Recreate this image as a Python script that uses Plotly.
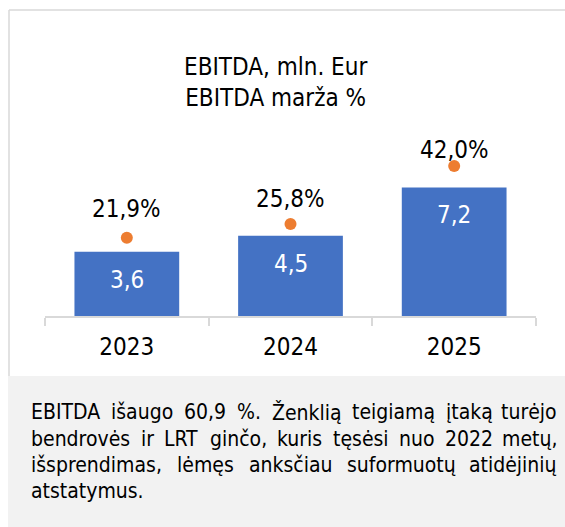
import plotly.graph_objects as go

# ---- data ----
years = ["2023", "2024", "2025"]
ebitda = [3.6, 4.5, 7.2]          # mln. Eur
margin = [21.9, 25.8, 42.0]       # %

title_lines = ["EBITDA, mln. Eur", "EBITDA marža %"]
note_lines = [
    "EBITDA išaugo 60,9 %. Ženklią teigiamą įtaką turėjo",
    "bendrovės ir LRT ginčo, kuris tęsėsi nuo 2022 metų,",
    "išsprendimas, lėmęs anksčiau suformuotų atidėjinių",
    "atstatymus.",
]

# ---- styling / layout constants ----
W, H = 565, 527
FONT = "DejaVu Sans Condensed, DejaVu Sans, sans-serif"
BAR_COLOR = "#4472C4"
DOT_COLOR = "#ED7D31"
GRID_GRAY = "#d9d9d9"
pct_label_shift = [29, 25, 16]


def px_x(p):
    return p / W


def px_y(p):
    return 1 - p / H


def fmt(v, suffix=""):
    return f"{v:.1f}".replace(".", ",") + suffix


fig = go.Figure()
fig.add_trace(go.Bar(
    x=years, y=ebitda, marker=dict(color=BAR_COLOR, line=dict(width=0)),
    width=0.64, yaxis="y", hoverinfo="skip", showlegend=False,
))
fig.add_trace(go.Scatter(
    x=years, y=margin, mode="markers", yaxis="y2",
    marker=dict(color=DOT_COLOR, size=12), hoverinfo="skip", showlegend=False,
))

annotations = []
for i, v in enumerate(ebitda):
    annotations.append(dict(
        x=i, y=v, xref="x", yref="y", text=fmt(v), showarrow=False,
        yanchor="middle", yshift=-28, font=dict(family=FONT, size=24, color="white"),
    ))
for i, (m, s) in enumerate(zip(margin, pct_label_shift)):
    annotations.append(dict(
        x=i, y=m, xref="x", yref="y2", text=fmt(m, "%"), showarrow=False,
        yanchor="middle", yshift=s, font=dict(family=FONT, size=24, color="black"),
    ))

annotations.append(dict(
    x=px_x(275), y=px_y(82), xref="paper", yref="paper",
    text="<br>".join(title_lines), showarrow=False, align="center",
    xanchor="center", yanchor="middle",
    font=dict(family=FONT, size=24, color="black"),
))

# ---- justified note text ----
EM = {
    " ": .318, "a": .613, "b": .635, "c": .550, "d": .635, "e": .615, "f": .352,
    "g": .635, "h": .634, "i": .278, "j": .278, "k": .579, "l": .278, "m": .974,
    "n": .634, "o": .612, "p": .635, "r": .411, "s": .521, "t": .392, "u": .634,
    "v": .592, "y": .592, "z": .525, "A": .684, "B": .686, "D": .770, "E": .632,
    "I": .295, "L": .557, "R": .695, "T": .611, "Z": .685, ",": .318, ".": .318,
    "%": .950,
}
BASE = {"ą": "a", "ę": "e", "ė": "e", "į": "i", "š": "s", "č": "c", "ų": "u",
        "ž": "z", "Ž": "Z"}
COND = 0.9
NOTE_SIZE = 21


def word_w(w):
    tot = 0
    for ch in w:
        c = BASE.get(ch, ch)
        tot += .636 if c.isdigit() else EM.get(c, .6)
    return tot * NOTE_SIZE * COND


X_LEFT, X_RIGHT = 30, 558
line_y = [412, 439, 465, 491]
for li, (line, ly) in enumerate(zip(note_lines, line_y)):
    words = line.split(" ")
    last = li == len(note_lines) - 1
    if last or len(words) == 1:
        annotations.append(dict(
            x=px_x(X_LEFT), y=px_y(ly), xref="paper", yref="paper", text=line,
            showarrow=False, xanchor="left", yanchor="middle", borderpad=0,
            font=dict(family=FONT, size=NOTE_SIZE, color="black"),
        ))
        continue
    widths = [word_w(w) for w in words]
    gap = (X_RIGHT - X_LEFT - sum(widths)) / (len(words) - 1)
    pos = X_LEFT
    for i, (w, ww) in enumerate(zip(words, widths)):
        if i == len(words) - 1:
            annotations.append(dict(
                x=px_x(X_RIGHT), y=px_y(ly), xref="paper", yref="paper", text=w,
                showarrow=False, xanchor="right", yanchor="middle", borderpad=0,
                font=dict(family=FONT, size=NOTE_SIZE, color="black"),
            ))
        else:
            annotations.append(dict(
                x=px_x(pos), y=px_y(ly), xref="paper", yref="paper", text=w,
                showarrow=False, xanchor="left", yanchor="middle", borderpad=0,
                font=dict(family=FONT, size=NOTE_SIZE, color="black"),
            ))
        pos += ww + gap

shapes = [
    dict(type="rect", xref="paper", yref="paper", x0=px_x(8), x1=1,
         y0=px_y(527), y1=px_y(376), fillcolor="#f2f2f2", line=dict(width=0),
         layer="below"),
    dict(type="line", xref="paper", yref="paper", x0=px_x(9), x1=1,
         y0=px_y(10), y1=px_y(10), line=dict(color=GRID_GRAY, width=1.5)),
    dict(type="line", xref="paper", yref="paper", x0=px_x(9), x1=px_x(9),
         y0=px_y(10), y1=px_y(376), line=dict(color=GRID_GRAY, width=1.5)),
]

dom_y = [px_y(316), px_y(137.5)]
fig.update_layout(
    width=W, height=H, autosize=False,
    margin=dict(l=0, r=0, t=0, b=0, pad=0),
    paper_bgcolor="white", plot_bgcolor="rgba(0,0,0,0)",
    showlegend=False,
    font=dict(family=FONT, color="black"),
    xaxis=dict(
        type="category", domain=[px_x(45), px_x(536)], range=[-0.5, 2.5],
        showline=True, linecolor=GRID_GRAY, linewidth=1.5,
        ticks="outside", tickson="boundaries", ticklen=8, tickcolor=GRID_GRAY,
        tickwidth=1.5, showgrid=False, zeroline=False,
        tickfont=dict(family=FONT, size=24, color="black"), ticklabelstandoff=8,
        fixedrange=True,
    ),
    yaxis=dict(domain=dom_y, range=[0, 10], visible=False, fixedrange=True),
    yaxis2=dict(domain=dom_y, range=[0, 50], overlaying="y", visible=False,
                fixedrange=True),
    annotations=annotations,
    shapes=shapes,
)

fig.write_html(
    "out.html",
    config={"displayModeBar": False},
    post_script="document.body.style.margin='0';document.body.style.overflow='hidden';",
)
